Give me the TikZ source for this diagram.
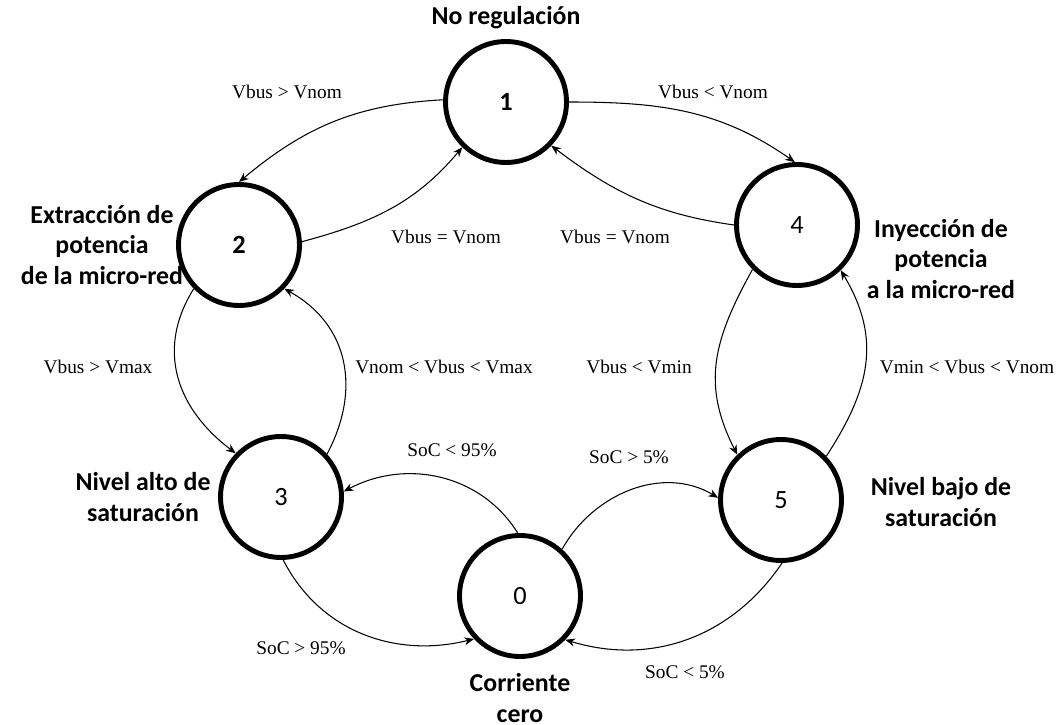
\documentclass[tikz,border=0pt]{standalone}
\usepackage{fontspec}
\setmainfont{Liberation Serif}
\newfontfamily\calib{Carlito}
\usetikzlibrary{arrows.meta}
\begin{document}
\begin{tikzpicture}[x=0.02cm,y=0.02cm,
  state/.style={circle,draw,line width=2.8pt,minimum size=2.42cm,inner sep=0pt,
    font=\calib\fontsize{15}{18}\selectfont},
  statebold/.style={state,font=\calib\bfseries\fontsize{15}{18}\selectfont},
  title/.style={font=\calib\bfseries\fontsize{14.7}{17.4}\selectfont,align=center,inner sep=0pt},
  cond/.style={font=\fontsize{11}{13}\selectfont,inner sep=0pt},
  tr/.style={-{Stealth[length=5.5pt,width=4.5pt]},line width=0.6pt}]
\useasboundingbox (0,0) rectangle (1062,724);

% states
\node[statebold] (n1) at (506,622) {1};
\node[statebold] (n2) at (239,479) {2};
\node[state] (n4) at (797,499) {4};
\node[state] (n3) at (281,227) {3};
\node[state] (n5) at (781,224) {5};
\node[state] (n0) at (520,128) {0};

% state names
\node[title] (t1) at (506,706) {No regulación};
\node[title] (t2) at (102,479) {Extracción de\\potencia\\de la micro-red};
\node[title] (t4) at (941,465) {Inyección de\\potencia\\a la micro-red};
\node[title] (t3) at (143,227) {Nivel alto de\\saturación};
\node[title] (t5) at (941,222) {Nivel bajo de\\saturación};
\node[title] (t0) at (520,26) {Corriente\\cero};

% transitions
\draw[tr] (n1.178) to[out=183,in=40] (n2.90);
\draw[tr] (n2.3) to[out=15,in=230] (n1.226);
\draw[tr] (n1.0) to[out=0,in=145] (n4.92);
\draw[tr] (n4.180) to[out=172,in=-37] (n1.-44);
\draw[tr] (n2.224) to[out=238,in=143,looseness=1.1] (n3.136);
\draw[tr] (n3.43) to[out=62,in=-29,looseness=1.1] (n2.-44);
\draw[tr] (n4.225) to[out=241,in=117,looseness=1.1] (n5.134);
\draw[tr] (n5.44) to[out=57,in=-59,looseness=1.1] (n4.-46);
\draw[tr] (n0.92) to[out=122,in=28] (n3.5);
\draw[tr] (n0.48) to[out=61,in=149] (n5.178);
\draw[tr] (n3.-88) to[out=-63,in=194] (n0.223);
\draw[tr] (n5.-89) to[out=236,in=-17] (n0.-44);

% conditions
\node[cond] (c12) at (287,632) {Vbus > Vnom};
\node[cond] (c21) at (446,487) {Vbus = Vnom};
\node[cond] (c14) at (713,632) {Vbus < Vnom};
\node[cond] (c41) at (615,487) {Vbus = Vnom};
\node[cond] (c23) at (98,357) {Vbus > Vmax};
\node[cond] (c32) at (444,357) {Vnom < Vbus < Vmax};
\node[cond] (c45) at (639,357) {Vbus < Vmin};
\node[cond] (c54) at (967,357) {Vmin < Vbus < Vnom};
\node[cond] (c03) at (452,274) {SoC < 95\%};
\node[cond] (c05) at (629,267) {SoC > 5\%};
\node[cond] (c30) at (301,76) {SoC > 95\%};
\node[cond] (c50) at (685,52) {SoC < 5\%};
\end{tikzpicture}
\end{document}
